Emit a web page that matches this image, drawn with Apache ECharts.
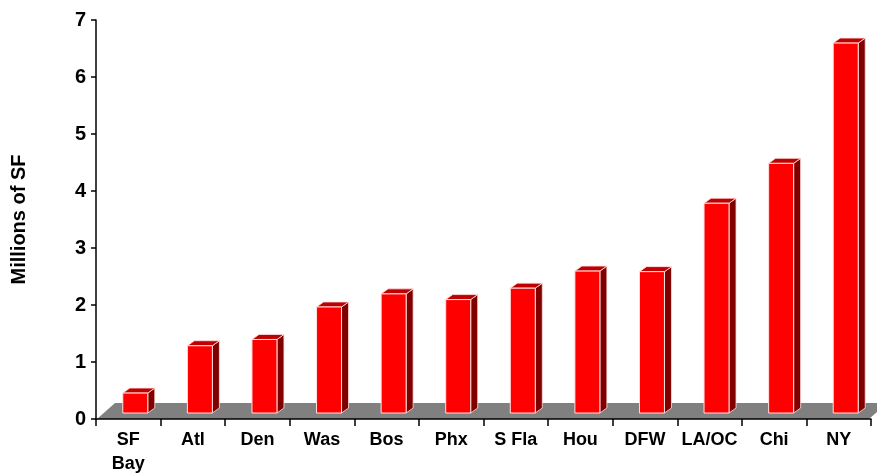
<!DOCTYPE html>
<html>
<head>
<meta charset="utf-8">
<script src="https://cdn.jsdelivr.net/npm/echarts@6/dist/echarts.min.js"></script>
<style>
  html, body { margin: 0; padding: 0; background: #ffffff; }
  #chart { width: 877px; height: 476px; }
</style>
</head>
<body>
<div id="chart"></div>
<script>
// Office space by market, millions of square feet
const markets = ['SF\nBay', 'Atl', 'Den', 'Was', 'Bos', 'Phx', 'S Fla', 'Hou', 'DFW', 'LA/OC', 'Chi', 'NY'];
const sqft = [0.35, 1.18, 1.29, 1.86, 2.09, 1.99, 2.19, 2.49, 2.48, 3.68, 4.38, 6.49];
const valueTicks = [0, 1, 2, 3, 4, 5, 6, 7];

const FONT = '"Liberation Sans", Arial, sans-serif';

// pseudo-3D depth of the floor slab and of each column
const FLOOR_DX = 18, FLOOR_DY = -16;
const FRONT_DX = 7, FRONT_DY = -6;
const BAR_DX = 7, BAR_DY = -5;
const BAR_W = 25;

function renderFloor(params, api) {
  const cs = params.coordSys;
  const y0 = api.coord([0, 0])[1];
  const x0 = cs.x + 1;
  const x1 = cs.x + cs.width - 2;
  return {
    type: 'polygon',
    shape: { points: [[x0, y0], [x1, y0], [x1 + FLOOR_DX, y0 + FLOOR_DY], [x0 + FLOOR_DX, y0 + FLOOR_DY]] },
    style: { fill: '#808080', stroke: null }
  };
}

function renderColumn(params, api) {
  const idx = api.value(0);
  const top = api.coord([idx, api.value(1)]);
  const base = api.coord([idx, 0]);
  const xl = top[0] + FRONT_DX - BAR_W / 2;
  const xr = xl + BAR_W;
  const yt = top[1] + FRONT_DY;
  const yb = base[1] + FRONT_DY;
  const edge = '#ffe0e0';
  return {
    type: 'group',
    children: [
      {
        type: 'polygon',
        shape: { points: [[xr, yt], [xr + BAR_DX, yt + BAR_DY], [xr + BAR_DX, yb + BAR_DY], [xr, yb]] },
        style: { fill: '#800000', stroke: edge, lineWidth: 0.8 }
      },
      {
        type: 'polygon',
        shape: { points: [[xl, yt], [xl + BAR_DX, yt + BAR_DY], [xr + BAR_DX, yt + BAR_DY], [xr, yt]] },
        style: { fill: '#bf0000', stroke: edge, lineWidth: 0.8 }
      },
      {
        type: 'rect',
        shape: { x: xl, y: yt, width: BAR_W, height: yb - yt },
        style: { fill: '#ff0000', stroke: edge, lineWidth: 1 }
      }
    ]
  };
}

const chart = echarts.init(document.getElementById('chart'), null, { renderer: 'canvas' });
chart.setOption({
  animation: false,
  backgroundColor: '#ffffff',
  grid: { left: 96, right: 6, top: 20, bottom: 56, containLabel: false },
  xAxis: {
    type: 'category',
    data: markets,
    z: 10,
    axisLine: { show: true, lineStyle: { color: '#000', width: 1.5 } },
    axisTick: { show: true, length: 7, lineStyle: { color: '#000', width: 1.5 } },
    axisLabel: {
      color: '#000', fontFamily: FONT, fontWeight: 'bold', fontSize: 18,
      lineHeight: 24, margin: 9, interval: 0
    },
    splitLine: { show: false }
  },
  yAxis: {
    type: 'value',
    min: valueTicks[0],
    max: valueTicks[valueTicks.length - 1],
    interval: 1,
    z: 10,
    name: 'Millions of SF',
    nameLocation: 'middle',
    nameGap: 67,
    nameRotate: 90,
    nameTextStyle: { color: '#000', fontFamily: FONT, fontWeight: 'bold', fontSize: 20 },
    axisLine: { show: true, lineStyle: { color: '#000', width: 1.5 } },
    axisTick: { show: true, length: 5, lineStyle: { color: '#000', width: 1.5 } },
    axisLabel: { color: '#000', fontFamily: FONT, fontWeight: 'bold', fontSize: 20, margin: 10 },
    splitLine: { show: false }
  },
  series: [
    {
      type: 'custom',
      name: 'floor',
      renderItem: renderFloor,
      data: [[0, 0]],
      clip: false,
      z: 1,
      silent: true
    },
    {
      type: 'custom',
      name: 'Millions of SF',
      renderItem: renderColumn,
      encode: { x: 0, y: 1 },
      data: sqft.map((v, i) => [i, v]),
      clip: false,
      z: 2
    }
  ]
});
</script>
</body>
</html>
